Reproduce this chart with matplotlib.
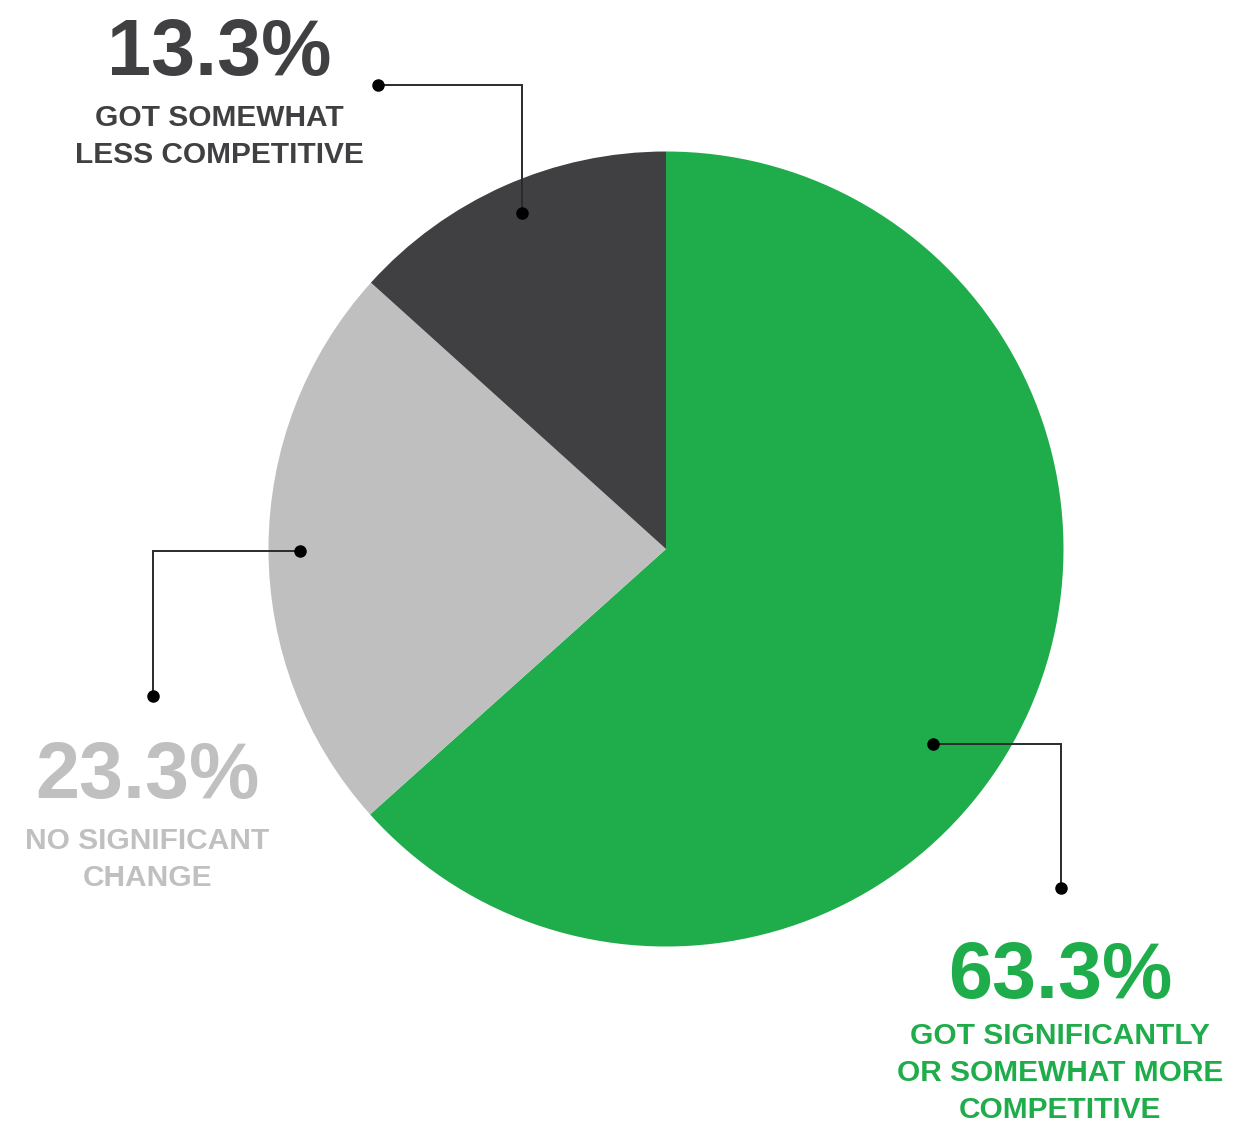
import matplotlib
matplotlib.use('Agg')
import matplotlib.pyplot as plt

# ── Data ─────────────────────────────────────
labels = ['GOT SIGNIFICANTLY\nOR SOMEWHAT MORE\nCOMPETITIVE',
          'NO SIGNIFICANT\nCHANGE',
          'GOT SOMEWHAT\nLESS COMPETITIVE']
values = [63.3, 23.3, 13.3]
colors = ['#1FAC4A', '#BFBFBF', '#404042']
text_colors = ['#1FAC4A', '#C0C0C0', '#404042']

W, H = 1235, 1124
plt.rcParams['font.family'] = ['Liberation Sans', 'DejaVu Sans']

fig = plt.figure(figsize=(W / 100, H / 100), dpi=100)
ax = fig.add_axes([0, 0, 1, 1])

# axes in pixel units (y measured up from the bottom)
ax.pie(values, colors=colors, startangle=90, counterclock=False,
       center=(666, H - 549), radius=397.5, frame=False,
       wedgeprops=dict(linewidth=0))

ax.set_xlim(0, W)
ax.set_ylim(0, H)
ax.set_aspect('equal')
ax.axis('off')

# ── Leader lines (pixel coords, y from top) ──
leaders = [
    [(933, 744), (1061, 744), (1061, 888)],
    [(300, 551), (153, 551), (153, 696)],
    [(522, 213), (522, 85), (378, 85)],
]
for pts in leaders:
    xs = [p[0] for p in pts]
    ys = [H - p[1] for p in pts]
    ax.plot(xs, ys, color='#2b2b2b', lw=1.4, zorder=3, solid_joinstyle='miter')
    ax.plot([xs[0], xs[-1]], [ys[0], ys[-1]], 'o', color='black', ms=8, zorder=4)

# ── Labels ───────────────────────────────────
# (x centre, baseline of the big number, baseline of first text line)
label_pos = [(1060, 998, 1044), (147, 798, 849), (219, 75, 126)]
for (x, yb, yt), val, lab, tc in zip(label_pos, values, labels, text_colors):
    ax.text(x, H - yb, f'{val:.1f}%', ha='center', va='baseline',
            fontsize=57, fontweight='bold', color=tc)
    for i, line in enumerate(lab.split('\n')):
        ax.text(x, H - (yt + i * 36.8), line, ha='center', va='baseline',
                fontsize=21.5, fontweight='bold', color=tc)

plt.savefig('out.png', dpi=100)
